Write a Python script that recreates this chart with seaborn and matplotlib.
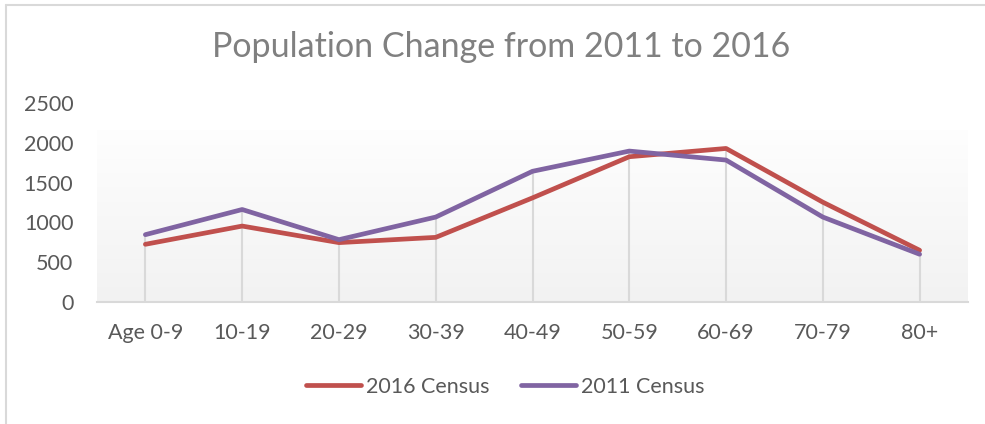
import numpy as np
import pandas as pd
import matplotlib
matplotlib.use("Agg")
import matplotlib.pyplot as plt
from matplotlib.lines import Line2D
import seaborn as sns

categories = ["Age 0-9", "10-19", "20-29", "30-39", "40-49", "50-59", "60-69", "70-79", "80+"]
census_2016 = [725, 954, 746, 812, 1308, 1825, 1929, 1254, 650]
census_2011 = [846, 1162, 783, 1067, 1642, 1896, 1783, 1067, 600]
series_names = ["2016 Census", "2011 Census"]
yticks = [0, 500, 1000, 1500, 2000, 2500]

sns.set_theme(style="white")
plt.rcParams["font.family"] = ["Lato", "DejaVu Sans"]

fig = plt.figure(figsize=(9.85, 4.24), dpi=100)
ax = fig.add_axes([97/985, 1-302/424, (968-97)/985, (302-103)/424])

idx = np.arange(len(categories))
df = pd.DataFrame({
    "x": np.concatenate([idx, idx]),
    "value": census_2016 + census_2011,
    "series": [series_names[0]]*len(categories) + [series_names[1]]*len(categories),
})

# gradient plot area
grad = np.linspace(0, 1, 256).reshape(-1, 1)
c_bot = np.array([0xf2, 0xf2, 0xf2]) / 255
c_top = np.array([0xfe, 0xfe, 0xfe]) / 255
img = c_top[None, None, :] * grad[::-1, :, None] + c_bot[None, None, :] * (1 - grad[::-1, :, None])
ax.imshow(img, extent=(0, 1, 0, 0.864), transform=ax.transAxes, aspect="auto", zorder=0)

# drop lines
tops = np.maximum(census_2016, census_2011)
ax.vlines(idx, 0, tops, color="#d9d9d9", lw=1.5, zorder=1)

palette = {series_names[0]: "#c0504d", series_names[1]: "#8064a2"}
sns.lineplot(data=df, x="x", y="value", hue="series", palette=palette, lw=3.4,
             ax=ax, legend=False, zorder=3, sort=False)
for l in ax.lines:
    l.set_solid_capstyle("round")
    l.set_solid_joinstyle("round")

ax.set_xlim(-0.5, len(categories) - 0.5)
ax.set_ylim(0, 2500)
ax.set_xticks(idx)
ax.set_xticklabels(categories)
ax.set_yticks(yticks)
ax.set_xlabel("")
ax.set_ylabel("")
ax.tick_params(axis="both", length=0, labelsize=15.5, labelcolor="#595959")
ax.tick_params(axis="y", pad=17)
ax.tick_params(axis="x", pad=15)
for s in ["left", "right", "top"]:
    ax.spines[s].set_visible(False)
ax.spines["bottom"].set_color("#d9d9d9")
ax.spines["bottom"].set_linewidth(1.5)
ax.set_facecolor("white")

fig.text(501/985, 1 - 47/424, "Population Change from 2011 to 2016", ha="center", va="center",
         fontsize=24.5, fontweight="normal", color="#808080")

handles = [Line2D([], [], color=palette[n], lw=3.4, solid_capstyle="round") for n in series_names]
leg = fig.legend(handles, series_names, loc="center", bbox_to_anchor=(505/985, 1 - 387/424), ncol=2,
                 frameon=False, fontsize=15.5, handlelength=2.55, handletextpad=0.25,
                 columnspacing=1.45, labelcolor="#595959")

# chart border (top & left)
fig.add_artist(Line2D([6/985, 1], [1 - 5/424, 1 - 5/424], transform=fig.transFigure, color="#d9d9d9", lw=1.5))
fig.add_artist(Line2D([6/985, 6/985], [0, 1 - 5/424], transform=fig.transFigure, color="#d9d9d9", lw=1.5))

fig.savefig("out.png", dpi=100, facecolor="white")
